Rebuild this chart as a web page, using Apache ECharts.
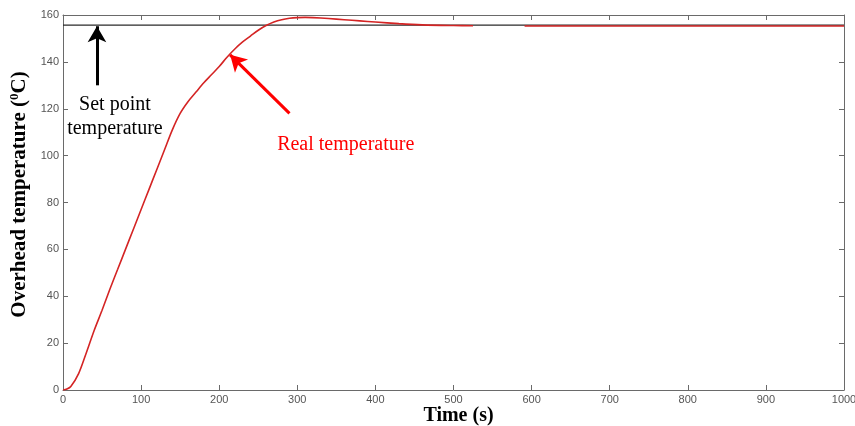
<!DOCTYPE html>
<html>
<head>
<meta charset="utf-8">
<script src="https://cdn.jsdelivr.net/npm/echarts@6/dist/echarts.min.js"></script>
<style>html,body{margin:0;padding:0;background:#fff}#c{width:855px;height:426px}</style>
</head>
<body>
<div id="c"></div>
<script>
const timeS = [0,5,10,20,30,40,50,60,70,80,90,100,110,120,130,140,150,160,170,180,190,200,210,220,230,240,250,260,270,280,290,300,310,320,340,360,380,400,430,460,500,525,558,591,650,700,800,900,1000];
const realTemp = [0,0.4,1.5,7,16,25.5,34,43,51.5,60,68.5,77,85.5,94,102.5,111,118,123,127,131,134.5,138,142,145.5,148.5,151,153.5,155.5,157,158,158.6,158.9,159,158.9,158.5,158,157.5,157,156.3,155.8,155.5,155.4,null,155.3,155.3,155.3,155.3,155.3,155.3];
const setPointTemp = 155.7;
const xRange = [0, 1000, 100];
const yRange = [0, 160, 20];
const setArrow = [[43.5, 130], [43.5, 155.2]];
const realArrow = [[290, 118], [214, 143]];
const setLabelPos = [66.5, 116.8];
const realLabelPos = [362, 104.6];

const serif = '"Liberation Serif","DejaVu Serif",serif';
const sans = '"Liberation Sans",Arial,sans-serif';
const axisCol = '#6a6a6a';

const chart = echarts.init(document.getElementById('c'));
const baseAxis = {
  axisLine:{show:true,onZero:false,lineStyle:{color:axisCol,width:1}},
  axisTick:{show:true,inside:true,length:5,lineStyle:{color:axisCol}},
  splitLine:{show:false}
};
const plain = v => String(v);
chart.setOption({
  animation:false,
  backgroundColor:'#fff',
  grid:{left:63,right:11,top:15,bottom:36,outerBoundsMode:'none',containLabel:false},
  xAxis:[
    Object.assign({type:'value',min:xRange[0],max:xRange[1],interval:xRange[2],position:'bottom',
      name:'Time (s)',nameLocation:'middle',nameGap:16,nameMoveOverlap:false,
      nameTextStyle:{fontFamily:serif,fontWeight:'bold',fontSize:20,color:'#000',padding:[0,0,0,10]},
      axisLabel:{fontFamily:sans,fontSize:11,color:'#555',margin:4,formatter:plain}},baseAxis),
    Object.assign({type:'value',min:xRange[0],max:xRange[1],interval:xRange[2],position:'top',
      axisLabel:{show:false}},baseAxis)
  ],
  yAxis:[
    Object.assign({type:'value',min:yRange[0],max:yRange[1],interval:yRange[2],position:'left',
      name:'{a|Overhead temperature (}{s|0}{a|C)}',nameLocation:'middle',nameGap:32,nameRotate:90,nameMoveOverlap:false,
      nameTextStyle:{padding:[0,0,0,16],rich:{
        a:{fontFamily:serif,fontWeight:'bold',fontSize:21,color:'#000'},
        s:{fontFamily:serif,fontWeight:'bold',fontSize:13,color:'#000',verticalAlign:'top',padding:[0,0,10,0]}
      }},
      axisLabel:{fontFamily:sans,fontSize:11,color:'#555',margin:4,formatter:plain}},baseAxis),
    Object.assign({type:'value',min:yRange[0],max:yRange[1],interval:yRange[2],position:'right',
      axisLabel:{show:false}},baseAxis)
  ],
  series:[
    {
      type:'line',name:'Real temperature',
      data:timeS.map((t,i)=>[t,realTemp[i]]),
      showSymbol:false,smooth:0.3,connectNulls:false,
      lineStyle:{color:'#d42424',width:1.6},
      z:3
    },
    {
      type:'line',name:'Set point',
      data:[[xRange[0],setPointTemp],[xRange[1],setPointTemp]],
      showSymbol:false,
      lineStyle:{color:'#2a2a2a',width:1.3},
      z:2,
      markLine:{
        silent:true,animation:false,
        symbol:['none','arrow'],symbolSize:[14,16],
        label:{show:false},
        data:[
          [{coord:setArrow[0],lineStyle:{color:'#000',width:3,type:'solid'}},{coord:setArrow[1]}],
          [{coord:realArrow[0],lineStyle:{color:'#ff0000',width:3,type:'solid'}},{coord:realArrow[1]}]
        ]
      },
      markPoint:{
        silent:true,animation:false,symbol:'circle',symbolSize:0,
        data:[
          {coord:setLabelPos,label:{show:true,position:'inside',formatter:'Set point\ntemperature',
            fontFamily:serif,fontSize:20,lineHeight:24,color:'#000',align:'center'}},
          {coord:realLabelPos,label:{show:true,position:'inside',formatter:'Real temperature',
            fontFamily:serif,fontSize:20,color:'#ff0000'}}
        ]
      }
    }
  ]
});
</script>
</body>
</html>
